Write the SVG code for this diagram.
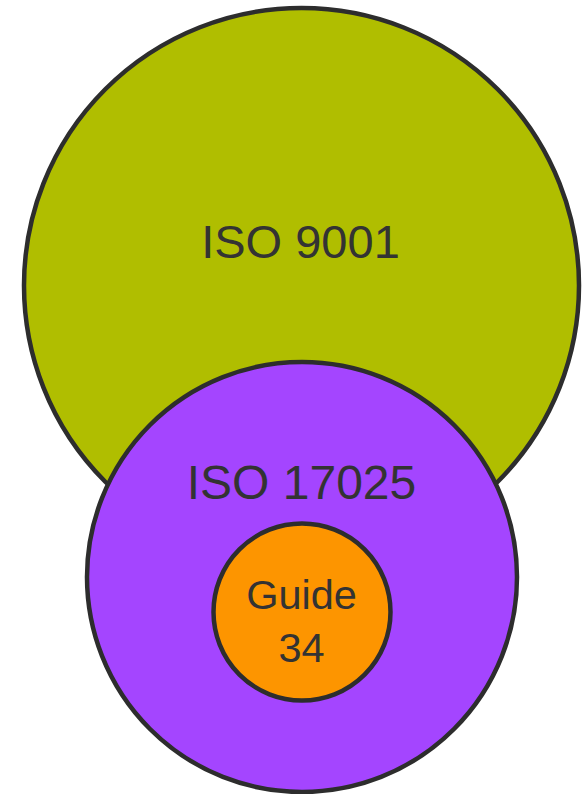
<svg xmlns="http://www.w3.org/2000/svg" width="586" height="794" viewBox="0 0 586 794">
<style>
.c{stroke:#2d2d2d;stroke-width:4.5}
.t{font-family:"Liberation Sans",Arial,sans-serif;fill:#333333;text-anchor:middle}
</style>
<rect width="586" height="794" fill="#ffffff"/>
<g id="iso9001">
<circle class="c" cx="301.5" cy="285.5" r="277.5" fill="#b0be00"/>
<text class="t" x="300.5" y="258" font-size="47">ISO 9001</text>
</g>
<g id="iso17025">
<circle class="c" cx="302" cy="577" r="215" fill="#a445ff"/>
<text class="t" x="301.5" y="499" font-size="48">ISO 17025</text>
</g>
<g id="guide34">
<circle class="c" cx="302" cy="612" r="88.5" fill="#fd9500"/>
<text class="t" x="301.5" y="609" font-size="41.5">Guide</text>
<text class="t" x="301.5" y="662" font-size="41.5">34</text>
</g>
<g id="connectors"/>
</svg>
